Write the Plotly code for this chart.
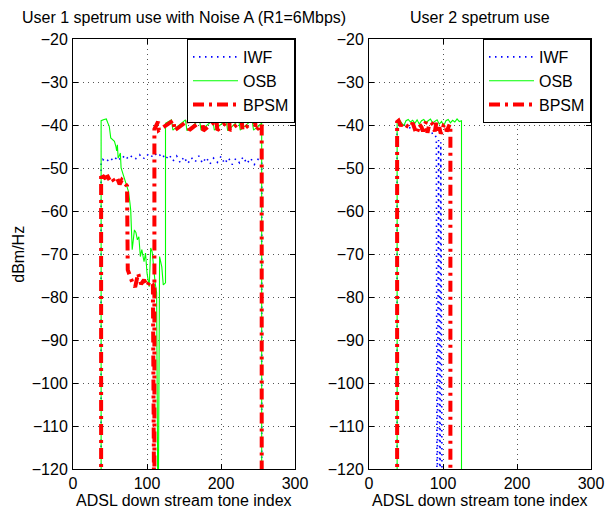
import plotly.graph_objects as go

# ---------------- data ----------------
# Left panel: User 1 (tone index, dBm/Hz); -140 means "no power" (below axis)
iwf1_tone = [38, 38, 40, 45, 50, 55, 60, 65, 70, 75, 80, 85, 90, 95, 100, 105, 110, 115,
             120, 125, 130, 135, 140, 145, 150, 155, 160, 165, 170, 175, 180, 185, 190,
             195, 200, 205, 210, 215, 220, 225, 230, 235, 240, 245, 250, 255, 255]
iwf1_db = [-140, -48.5, -48.0, -48.6, -47.6, -48.4, -47.3, -48.2, -47.0, -48.0, -47.1, -47.8,
           -46.9, -47.9, -46.8, -47.6, -46.5, -47.4, -46.6, -48.0, -46.9, -48.4, -47.2, -48.8,
           -47.4, -49.0, -47.6, -48.6, -47.2, -48.9, -47.5, -49.1, -47.7, -48.7, -47.3, -49.0,
           -47.6, -49.2, -47.8, -48.8, -47.4, -49.0, -47.7, -49.2, -48.0, -48.5, -140]

osb1_tone = [38, 38, 42, 45, 47, 49, 51, 54, 56, 58, 59, 60, 61, 63, 64, 65, 67, 69, 72, 75,
             77, 78, 80, 83, 85, 87, 89, 91, 93, 96, 98, 100, 103, 105, 107, 109, 111, 113,
             114, 115, 117, 120, 122, 125, 125, 133, 135, 152, 154, 171, 173, 189, 191, 207,
             209, 224, 226, 242, 244, 255, 255]
osb1_db = [-140, -39.0, -38.7, -38.6, -39.5, -40.3, -43.0, -43.5, -43.8, -45.0, -46.0, -44.6,
           -47.7, -47.0, -46.5, -50.0, -51.0, -52.5, -54.0, -55.5, -58.2, -59.8, -69.0, -64.4,
           -65.0, -66.7, -66.0, -70.6, -69.0, -71.8, -69.8, -74.4, -77.6, -68.6, -69.5, -73.7,
           -76.7, -79.0, -140, -140, -70.6, -73.0, -77.2, -76.7, -39.6, -38.8, -41.2, -38.8,
           -41.3, -38.8, -41.2, -38.9, -41.2, -38.8, -41.3, -38.9, -41.2, -38.8, -41.2, -39.6,
           -140]

bpsm1_tone = [38, 38, 40, 43, 47, 50, 53, 56, 60, 63, 66, 70, 73, 74, 77, 80, 84, 88, 92, 96,
              100, 104, 108, 109, 110, 110, 115, 116, 136, 137, 156, 157, 175, 176, 194, 195,
              211, 212, 228, 229, 246, 247, 255, 255]
bpsm1_db = [-140, -51.2, -51.8, -52.3, -52.0, -53.0, -52.4, -53.2, -52.5, -53.8, -52.8, -53.5,
            -54.2, -73.7, -75.5, -76.5, -77.7, -74.5, -77.0, -76.0, -77.5, -76.3, -77.2, -140,
            -140, -41.0, -39.2, -41.2, -38.9, -41.3, -38.9, -41.2, -38.8, -41.3, -38.9, -41.2,
            -38.9, -41.3, -38.9, -41.2, -38.8, -41.3, -39.8, -140]

# Right panel: User 2
iwf2_tone = [38, 38, 42, 48, 54, 60, 66, 72, 78, 84, 88, 91, 92, 94, 96, 97, 99, 100]
iwf2_db = [-140, -39.8, -40.2, -40.0, -40.6, -40.8, -41.2, -41.0, -41.6, -42.0, -41.8, -43.0,
           -140, -43.5, -140, -44.0, -140, -140]

osb2_tone = [38, 38, 41, 44, 47, 50, 53, 56, 59, 62, 65, 68, 71, 74, 77, 80, 83, 86, 89, 92,
             95, 98, 101, 104, 107, 110, 113, 116, 119, 122, 125, 125]
osb2_db = [-140, -39.0, -38.8, -39.4, -40.2, -39.0, -38.7, -39.3, -38.9, -39.6, -38.8, -39.8,
           -39.0, -38.7, -39.4, -39.0, -38.6, -39.5, -39.1, -38.8, -39.8, -39.2, -40.2, -39.0,
           -38.7, -39.5, -38.9, -39.3, -38.6, -39.2, -39.0, -140]

bpsm2_tone = [38, 38, 40, 43, 46, 49, 52, 56, 59, 62, 64, 66, 68, 71, 73, 75, 77, 79, 81, 84,
              87, 89, 91, 93, 95, 97, 99, 101, 103, 105, 107, 109, 110, 110]
bpsm2_db = [-140, -39.3, -39.0, -40.2, -39.5, -40.0, -40.3, -40.6, -39.5, -41.0, -42.0, -41.2,
            -39.8, -40.5, -41.5, -40.0, -39.3, -41.8, -40.2, -39.4, -40.0, -41.5, -39.5, -41.8,
            -40.5, -42.0, -41.3, -40.0, -39.8, -41.5, -40.5, -39.8, -40.5, -140]

series_names = ["IWF", "OSB", "BPSM"]
x_ticks = [0, 100, 200, 300]
y_ticks = [-20, -30, -40, -50, -60, -70, -80, -90, -100, -110, -120]
titles = ["User 1 spetrum use with Noise A (R1=6Mbps)", "User 2 spetrum use"]
x_label = "ADSL down stream tone index"
y_label = "dBm/Hz"

# ---------------- styling ----------------
FONT = "Liberation Sans, Arial, Helvetica, sans-serif"
FS = 16
styles = {
    "IWF": dict(color="rgb(0,0,255)", width=1.6, dash="1.5px,4.5px"),
    "OSB": dict(color="rgb(0,255,0)", width=1.1),
    "BPSM": dict(color="rgb(255,0,0)", width=4, dash="11px,5px,3px,5px"),
}

fig = go.Figure()
panels = [
    ("x", "y", "legend", [(iwf1_tone, iwf1_db), (osb1_tone, osb1_db), (bpsm1_tone, bpsm1_db)]),
    ("x2", "y2", "legend2", [(iwf2_tone, iwf2_db), (osb2_tone, osb2_db), (bpsm2_tone, bpsm2_db)]),
]
for xa, ya, lg, data in panels:
    for name, (tx, ty) in zip(series_names, data):
        assert len(tx) == len(ty), name
        fig.add_trace(go.Scatter(x=tx, y=ty, mode="lines", name=name, xaxis=xa, yaxis=ya,
                                 line=styles[name], legend=lg, showlegend=True,
                                 hoverinfo="skip"))

W, H = 616, 510
L, R, T, B = 73, 18, 39, 41
pw = W - L - R
ph = H - T - B
dom1 = [0, 225 / pw]
dom2 = [300 / pw, 1]

axis_common = dict(
    showline=True, linecolor="black", linewidth=1, mirror="ticks",
    ticks="inside", ticklen=5, tickcolor="black", tickwidth=1,
    showgrid=True, gridcolor="#555555", griddash="1px,4px", gridwidth=1,
    zeroline=False, tickfont=dict(family=FONT, size=FS, color="black"),
)
xa = dict(axis_common, range=[0, 300], tickvals=x_ticks, ticklabelstandoff=0)
ya = dict(axis_common, range=[-120, -20], tickvals=y_ticks, ticklabelstandoff=1)

leg_common = dict(bgcolor="white", bordercolor="black", borderwidth=1,
                  font=dict(family=FONT, size=FS, color="black"),
                  itemwidth=45, yanchor="top", y=1, xanchor="right",
                  tracegroupgap=0)

fig.update_layout(
    width=W, height=H,
    margin=dict(l=L, r=R, t=T, b=B, pad=0),
    paper_bgcolor="white", plot_bgcolor="white",
    font=dict(family=FONT, size=FS, color="black"),
    xaxis=dict(xa, domain=dom1, anchor="y"),
    yaxis=dict(ya, anchor="x"),
    xaxis2=dict(xa, domain=dom2, anchor="y2"),
    yaxis2=dict(ya, anchor="x2"),
    legend=dict(leg_common, x=dom1[1]),
    legend2=dict(leg_common, x=dom2[1]),
    annotations=[
        dict(text=titles[0], xref="paper", yref="paper", x=sum(dom1) / 2, y=1 + 22 / ph,
             xanchor="center", yanchor="middle", showarrow=False, font=dict(size=FS)),
        dict(text=titles[1], xref="paper", yref="paper", x=sum(dom2) / 2, y=1 + 22 / ph,
             xanchor="center", yanchor="middle", showarrow=False, font=dict(size=FS)),
        dict(text=x_label, xref="paper", yref="paper", x=sum(dom1) / 2, y=-31 / ph,
             xanchor="center", yanchor="middle", showarrow=False, font=dict(size=FS)),
        dict(text=x_label, xref="paper", yref="paper", x=sum(dom2) / 2, y=-31 / ph,
             xanchor="center", yanchor="middle", showarrow=False, font=dict(size=FS)),
        dict(text=y_label, xref="paper", yref="paper", x=-56 / pw, y=0.5, textangle=-90,
             xanchor="center", yanchor="middle", showarrow=False, font=dict(size=FS)),
    ],
)

fig.write_html("out.html")
